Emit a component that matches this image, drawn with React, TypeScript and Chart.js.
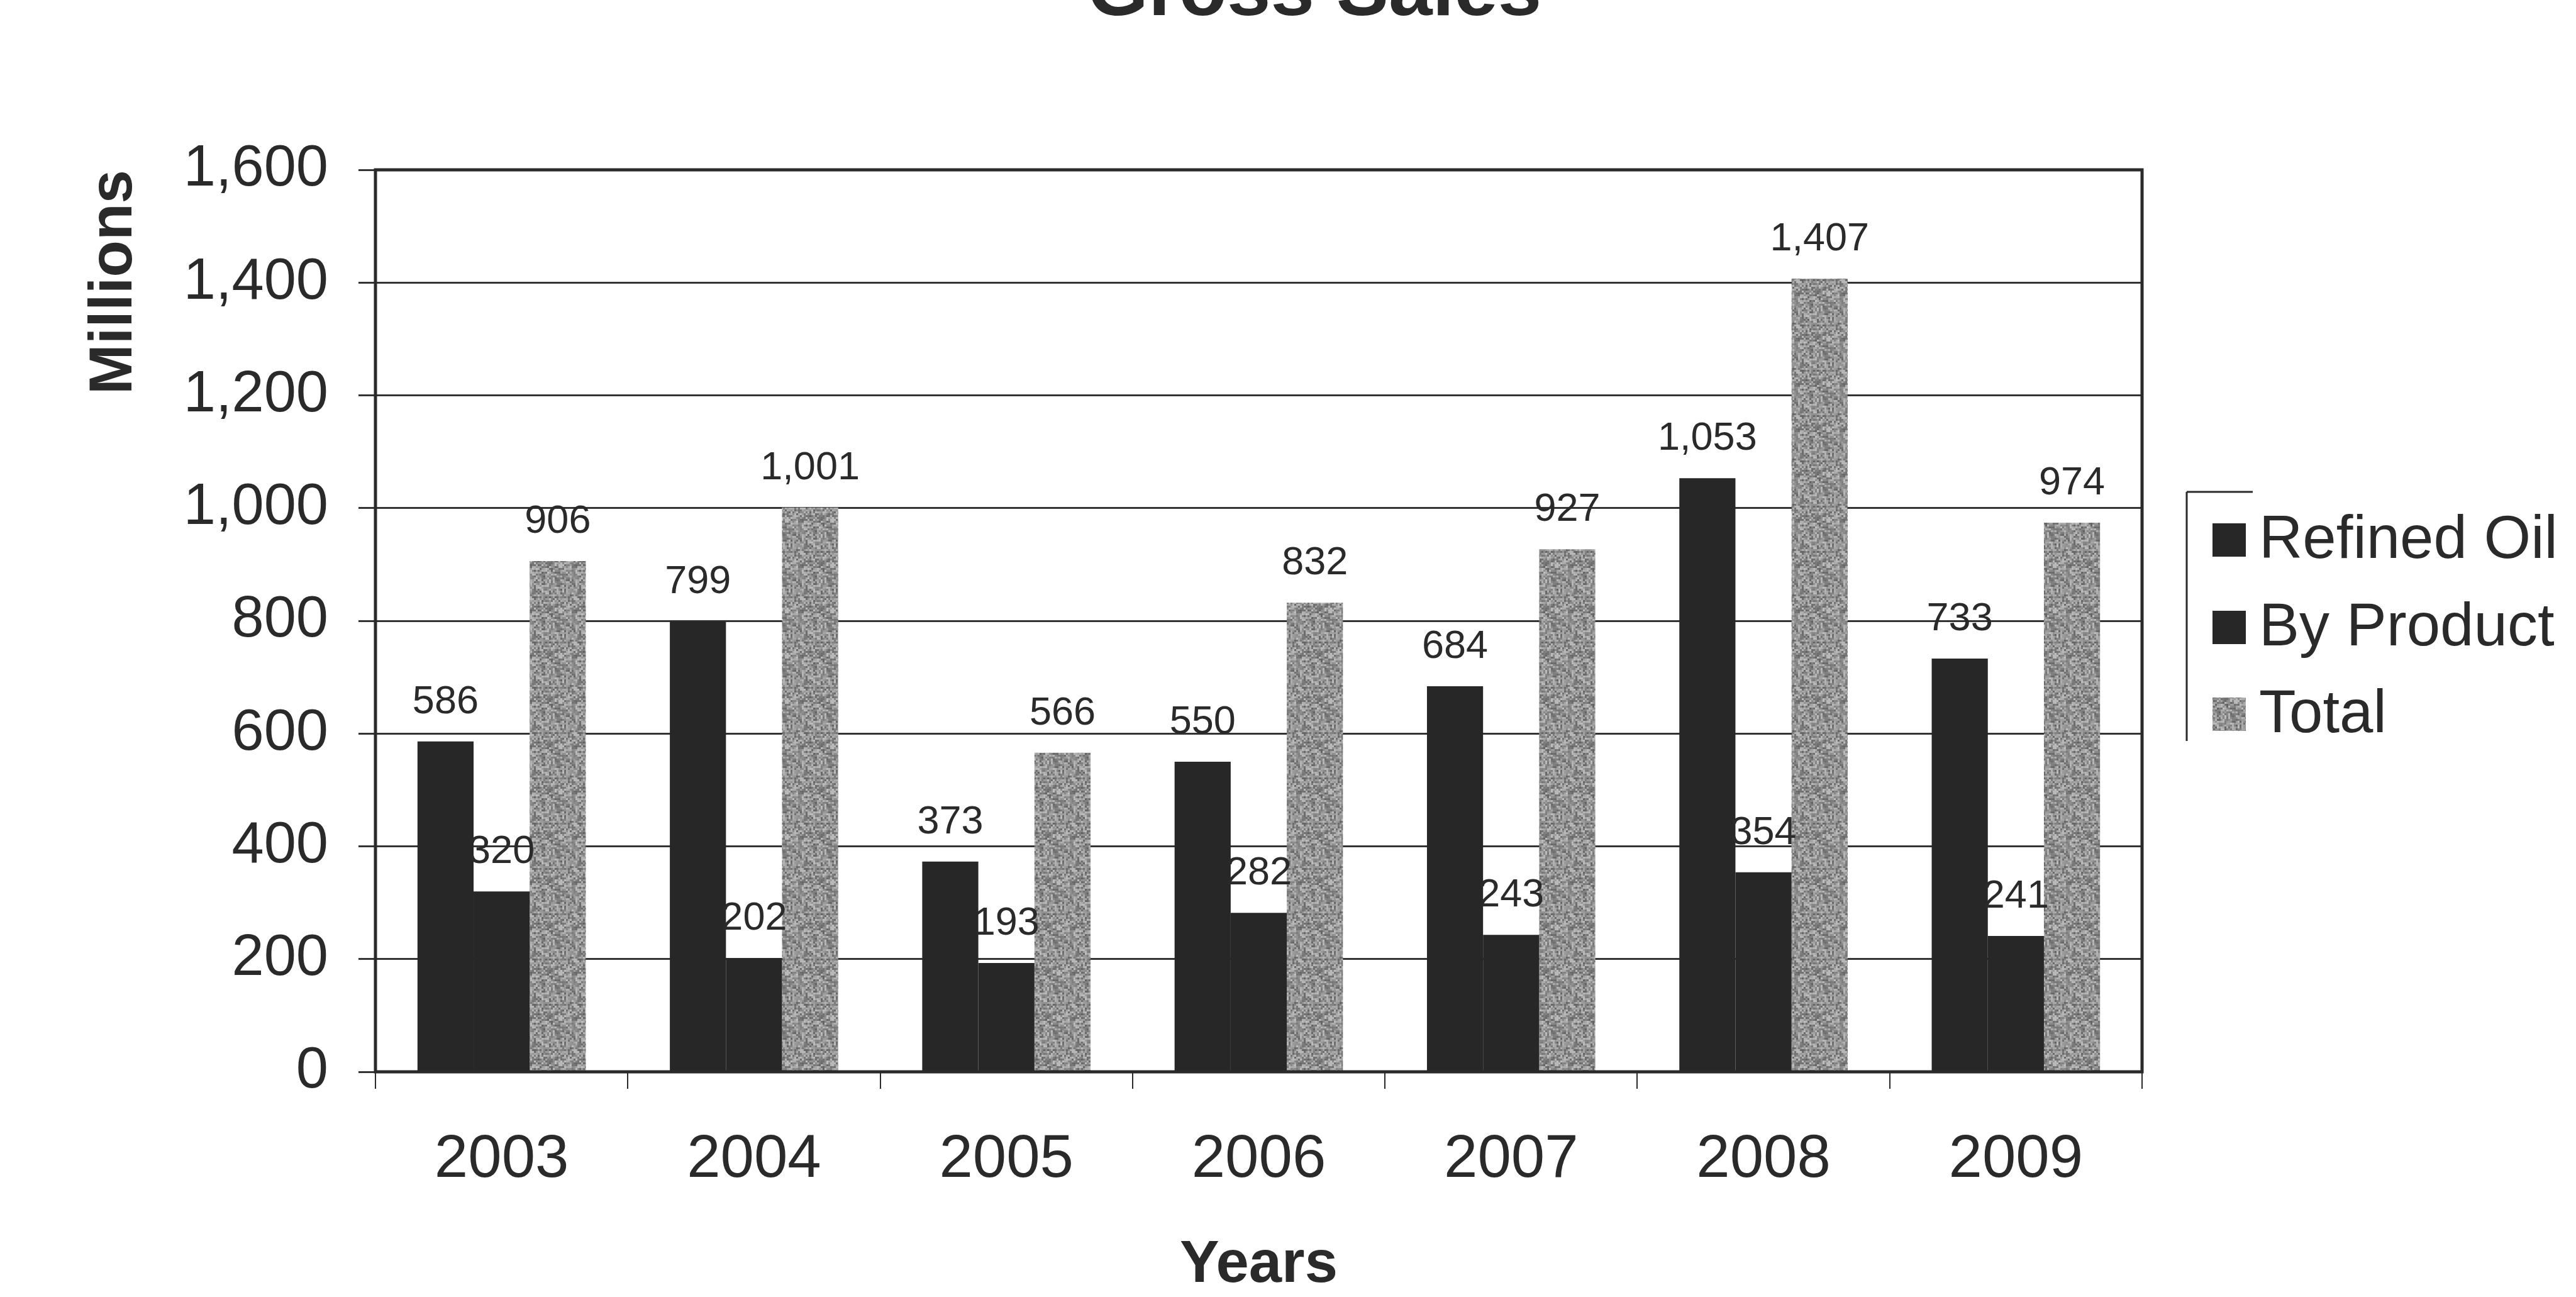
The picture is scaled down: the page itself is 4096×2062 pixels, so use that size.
import React, { useEffect, useRef } from 'react';
import { Chart, registerables } from 'chart.js';

Chart.register(...registerables);

// Gross sales by year, in millions
const years = ['2003', '2004', '2005', '2006', '2007', '2008', '2009'];
const refinedOil = [586, 799, 373, 550, 684, 1053, 733];
const byProduct = [320, 202, 193, 282, 243, 354, 241];
const total = [906, 1001, 566, 832, 927, 1407, 974];
const seriesNames = ['Refined Oil', 'By Product', 'Total'];
const yMin = 0;
const yMax = 1600;
const yStep = 200;

const chartTitle = 'Gross Sales';
const yTitle = 'Millions';
const xTitle = 'Years';

const W = 4096;
const H = 2062;
const FONT = '"Liberation Sans", Arial, Helvetica, sans-serif';
const INK = '#2a2a2a';
const DARK_BAR = '#272727';

const fmt = (v: number) => Number(v).toLocaleString('en-US');

// grainy grey fill used for the Total bars (fixed integer hash per cell)
function makeStipple(): CanvasPattern | string {
  const tile = document.createElement('canvas');
  const cell = 3;
  const n = 24;
  tile.width = cell * n;
  tile.height = cell * n;
  const c = tile.getContext('2d');
  if (!c) return '#8f8f8f';
  for (let i = 0; i < n; i++) {
    for (let j = 0; j < n; j++) {
      let h = Math.imul(i + 1, 374761393) ^ Math.imul(j + 7, 668265263);
      h = Math.imul(h ^ (h >>> 13), 1274126177);
      h = (h ^ (h >>> 16)) >>> 0;
      const t = (h % 1000) / 999;
      const s = Math.round(100 + t * 90);
      c.fillStyle = `rgb(${s},${s},${s})`;
      c.fillRect(i * cell, j * cell, cell, cell);
    }
  }
  return c.createPattern(tile, 'repeat') || '#8f8f8f';
}

export default function App() {
  const canvasRef = useRef<HTMLCanvasElement | null>(null);

  useEffect(() => {
    const canvas = canvasRef.current;
    if (!canvas) return;
    const stipple = makeStipple();
    const fills = [DARK_BAR, DARK_BAR, stipple];

    const decor = {
      id: 'grossSalesDecor',
      afterDatasetsDraw(chart: any) {
        const ctx = chart.ctx as CanvasRenderingContext2D;
        const area = chart.chartArea;
        ctx.save();
        // value labels above each bar
        ctx.fillStyle = INK;
        ctx.font = `63px ${FONT}`;
        ctx.textAlign = 'center';
        ctx.textBaseline = 'alphabetic';
        chart.data.datasets.forEach((ds: any, di: number) => {
          const meta = chart.getDatasetMeta(di);
          meta.data.forEach((el: any, i: number) => {
            ctx.fillText(fmt(ds.data[i]), el.x, el.y - 45);
          });
        });
        // plot frame
        ctx.strokeStyle = INK;
        ctx.lineWidth = 5;
        ctx.strokeRect(area.left, area.top, area.right - area.left, area.bottom - area.top);
        ctx.restore();
      },
      afterDraw(chart: any) {
        const ctx = chart.ctx as CanvasRenderingContext2D;
        ctx.save();
        // chart title
        ctx.fillStyle = INK;
        ctx.font = `bold 125px ${FONT}`;
        ctx.textAlign = 'center';
        ctx.textBaseline = 'alphabetic';
        ctx.fillText(chartTitle, 2090, 24);

        // legend
        const lx = 3477;
        ctx.strokeStyle = INK;
        ctx.lineWidth = 3;
        ctx.beginPath();
        ctx.moveTo(lx, 782);
        ctx.lineTo(lx, 1178);
        ctx.moveTo(lx, 782);
        ctx.lineTo(lx + 105, 782);
        ctx.stroke();
        const rows = [859, 998, 1136];
        ctx.font = `96px ${FONT}`;
        ctx.textAlign = 'left';
        ctx.textBaseline = 'middle';
        seriesNames.forEach((name, i) => {
          const cy = rows[i];
          ctx.fillStyle = fills[i] as any;
          ctx.fillRect(3518, cy - 27, 53, 53);
          ctx.fillStyle = INK;
          ctx.fillText(name, 3592, cy + 2);
        });
        ctx.restore();
      },
    };

    const chart = new Chart(canvas, {
      type: 'bar',
      data: {
        labels: years,
        datasets: [
          { label: seriesNames[0], data: refinedOil, backgroundColor: DARK_BAR },
          { label: seriesNames[1], data: byProduct, backgroundColor: DARK_BAR },
          { label: seriesNames[2], data: total, backgroundColor: stipple as any },
        ],
      },
      options: {
        animation: false,
        responsive: false,
        devicePixelRatio: 1,
        layout: { padding: { left: 0, top: 270, right: W - 3406, bottom: 0 } },
        datasets: { bar: { categoryPercentage: 0.667, barPercentage: 1.0, borderWidth: 0 } },
        plugins: {
          legend: { display: false },
          tooltip: { enabled: false },
          title: { display: false },
        },
        scales: {
          x: {
            afterFit: (scale: any) => {
              scale.height = H - 1704;
            },
            border: { display: false },
            grid: {
              offset: true,
              drawOnChartArea: false,
              drawTicks: true,
              tickLength: 27,
              color: INK,
              lineWidth: 2,
            },
            ticks: {
              color: INK,
              padding: 56,
              font: { family: FONT, size: 96 },
              maxRotation: 0,
              autoSkip: false,
            },
            title: {
              display: true,
              text: xTitle,
              color: INK,
              font: { family: FONT, size: 94, weight: 'bold', lineHeight: 1 },
              padding: { top: 0, bottom: 3 },
            },
          },
          y: {
            min: yMin,
            max: yMax,
            afterFit: (scale: any) => {
              scale.width = 597;
            },
            border: { display: false },
            grid: {
              drawTicks: true,
              tickLength: 27,
              color: '#333333',
              lineWidth: 3,
            },
            ticks: {
              stepSize: yStep,
              color: INK,
              padding: 48,
              font: { family: FONT, size: 92 },
              callback: (v: any) => fmt(Number(v)),
            },
            title: {
              display: true,
              text: yTitle,
              align: 'end',
              color: INK,
              font: { family: FONT, size: 96, weight: 'bold', lineHeight: 1.2 },
              padding: { top: 125, bottom: 0 },
            },
          },
        },
      },
      plugins: [decor],
    } as any);

    return () => chart.destroy();
  }, []);

  return (
    <div style={{ position: 'fixed', left: 0, top: 0, width: W, height: H, background: '#fff' }}>
      <canvas ref={canvasRef} width={W} height={H} style={{ display: 'block', width: W, height: H }} />
    </div>
  );
}
